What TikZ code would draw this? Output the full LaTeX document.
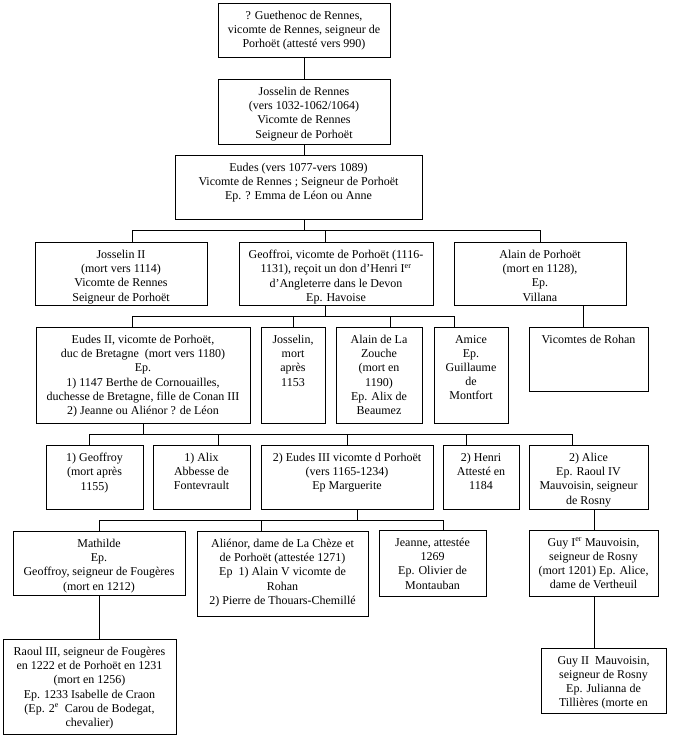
\documentclass[tikz,border=0pt]{standalone}
\usepackage{fontspec}
\setmainfont{Liberation Serif}
\tikzset{
  boite/.style={draw, line width=1pt, anchor=north west, inner sep=0pt, outer sep=0pt},
  texte/.style={anchor=north, yshift=-8pt, align=center, inner sep=0pt,
    font=\fontsize{12}{14.2}\selectfont},
  lien/.style={line width=1pt}
}
\begin{document}
\begin{tikzpicture}[x=1pt,y=-1pt]
    \useasboundingbox[fill=white] (0,0) rectangle (676,739);
    % set up the boxes
    \node[boite, minimum width=172, minimum height=54] (guethenoc) at (218,3) {};
    \node[boite, minimum width=172, minimum height=65] (josselinR) at (218,79) {};
    \node[boite, minimum width=247, minimum height=64] (eudes) at (175,155) {};
    \node[boite, minimum width=172, minimum height=63] (josselinII) at (35,242) {};
    \node[boite, minimum width=194, minimum height=63] (geoffroi) at (239,242) {};
    \node[boite, minimum width=172, minimum height=63] (alainP) at (454,242) {};
    \node[boite, minimum width=214, minimum height=96] (eudesII) at (36,327) {};
    \node[boite, minimum width=64, minimum height=96] (josselin) at (261,327) {};
    \node[boite, minimum width=86, minimum height=96] (zouche) at (336,327) {};
    \node[boite, minimum width=74, minimum height=96] (amice) at (434,327) {};
    \node[boite, minimum width=119, minimum height=64] (rohan) at (529,327) {};
    \node[boite, minimum width=97, minimum height=64] (geoffroy) at (46,445) {};
    \node[boite, minimum width=97, minimum height=64] (alix) at (153,445) {};
    \node[boite, minimum width=172, minimum height=64] (eudesIII) at (261,445) {};
    \node[boite, minimum width=76, minimum height=64] (henri) at (443,445) {};
    \node[boite, minimum width=119, minimum height=64] (alice) at (529,445) {};
    \node[boite, minimum width=172, minimum height=64] (mathilde) at (13,531) {};
    \node[boite, minimum width=171, minimum height=85] (alienor) at (197,531) {};
    \node[boite, minimum width=107, minimum height=66] (jeanne) at (379,530) {};
    \node[boite, minimum width=129, minimum height=66] (guyI) at (529,530) {};
    \node[boite, minimum width=173, minimum height=95] (raoul) at (3,639) {};
    \node[boite, minimum width=125, minimum height=65] (guyII) at (541,648) {};
    % texts, hanging from the top of each box
    \node[texte] (guethenoc-t) at (guethenoc.north) {? Guethenoc de Rennes,\\vicomte de Rennes, seigneur de\\Porhoët (attesté vers 990)};
    \node[texte] (josselinR-t) at (josselinR.north) {Josselin de Rennes\\(vers 1032-1062/1064)\\Vicomte de Rennes\\Seigneur de Porhoët};
    \node[texte] (eudes-t) at (eudes.north) {Eudes (vers 1077-vers 1089)\\Vicomte de Rennes ; Seigneur de Porhoët\\Ep. ? Emma de Léon ou Anne};
    \node[texte] (josselinII-t) at (josselinII.north) {Josselin II\\(mort vers 1114)\\Vicomte de Rennes\\Seigneur de Porhoët};
    \node[texte] (geoffroi-t) at (geoffroi.north) {Geoffroi, vicomte de Porhoët (1116-\\1131), reçoit un don d’Henri I\textsuperscript{er}\\d’Angleterre dans le Devon\\Ep. Havoise};
    \node[texte] (alainP-t) at (alainP.north) {Alain de Porhoët\\(mort en 1128),\\Ep.\\Villana};
    \node[texte] (eudesII-t) at (eudesII.north) {Eudes II, vicomte de Porhoët,\\duc de Bretagne\ \ (mort vers 1180)\\Ep.\\1) 1147 Berthe de Cornouailles,\\duchesse de Bretagne, fille de Conan III\\2) Jeanne ou Aliénor ? de Léon};
    \node[texte] (josselin-t) at (josselin.north) {Josselin,\\mort\\après\\1153};
    \node[texte] (zouche-t) at (zouche.north) {Alain de La\\Zouche\\(mort en\\1190)\\Ep. Alix de\\Beaumez};
    \node[texte] (amice-t) at (amice.north) {Amice\\Ep.\\Guillaume\\de\\Montfort};
    \node[texte] (rohan-t) at (rohan.north) {Vicomtes de Rohan};
    \node[texte] (geoffroy-t) at (geoffroy.north) {1) Geoffroy\\(mort après\\1155)};
    \node[texte] (alix-t) at (alix.north) {1) Alix\\Abbesse de\\Fontevrault};
    \node[texte] (eudesIII-t) at (eudesIII.north) {2) Eudes III vicomte d Porhoët\\(vers 1165-1234)\\Ep Marguerite};
    \node[texte] (henri-t) at (henri.north) {2) Henri\\Attesté en\\1184};
    \node[texte] (alice-t) at (alice.north) {2) Alice\\Ep. Raoul IV\\Mauvoisin, seigneur\\de Rosny};
    \node[texte] (mathilde-t) at (mathilde.north) {Mathilde\\Ep.\\Geoffroy, seigneur de Fougères\\(mort en 1212)};
    \node[texte] (alienor-t) at (alienor.north) {Aliénor, dame de La Chèze et\\de Porhoët (attestée 1271)\\Ep\ \ 1) Alain V vicomte de\\Rohan\\2) Pierre de Thouars-Chemillé};
    \node[texte] (jeanne-t) at (jeanne.north) {Jeanne, attestée\\1269\\Ep. Olivier de\\Montauban};
    \node[texte] (guyI-t) at (guyI.north) {Guy I\textsuperscript{er} Mauvoisin,\\seigneur de Rosny\\(mort 1201) Ep. Alice,\\dame de Vertheuil};
    \node[texte] (raoul-t) at (raoul.north) {Raoul III, seigneur de Fougères\\en 1222 et de Porhoët en 1231\\(mort en 1256)\\Ep. 1233 Isabelle de Craon\\(Ep. 2\textsuperscript{e}\ \ Carou de Bodegat,\\chevalier)};
    \node[texte] (guyII-t) at (guyII.north) {Guy II\ \ Mauvoisin,\\seigneur de Rosny\\Ep. Julianna de\\Tillières (morte en};
    % points where the lines meet
    \coordinate (b1) at (304,230);
    \coordinate (b1a) at (132,230);
    \coordinate (b1b) at (325,230);
    \coordinate (b1c) at (540,230);
    \coordinate (b2) at (325,316);
    \coordinate (b2a) at (132,316);
    \coordinate (b2b) at (293,316);
    \coordinate (b2c) at (390,316);
    \coordinate (b2d) at (454,316);
    \coordinate (b3) at (583,316);
    \coordinate (b4) at (143,434);
    \coordinate (b4a) at (89,434);
    \coordinate (b4b) at (218,434);
    \coordinate (b4c) at (347,434);
    \coordinate (b4d) at (466,434);
    \coordinate (b4e) at (572,434);
    \coordinate (b5) at (357,520);
    \coordinate (b5a) at (99,520);
    \coordinate (b5b) at (261,520);
    \coordinate (b5c) at (443,520);
    \coordinate (b6) at (594,520);
    % draw the lines between them
    \draw[lien] (guethenoc.south) -- (josselinR.north);
    \draw[lien] (josselinR.south) -- (josselinR.south |- eudes.north);
    \draw[lien] (b1 |- eudes.south) -- (b1);
    \draw[lien] (b1a |- josselinII.north) -- (b1a) -- (b1c) -- (b1c |- alainP.north);
    \draw[lien] (b1b) -- (b1b |- geoffroi.north);
    \draw[lien] (b2 |- geoffroi.south) -- (b2);
    \draw[lien] (b2a |- eudesII.north) -- (b2a) -- (b2d) -- (b2d |- amice.north);
    \draw[lien] (b2b) -- (b2b |- josselin.north);
    \draw[lien] (b2c) -- (b2c |- zouche.north);
    \draw[lien] (b3 |- alainP.south) -- (b3 |- rohan.north);
    \draw[lien] (b4 |- eudesII.south) -- (b4);
    \draw[lien] (b4a |- geoffroy.north) -- (b4a) -- (b4e) -- (b4e |- alice.north);
    \draw[lien] (b4b) -- (b4b |- alix.north);
    \draw[lien] (b4c) -- (b4c |- eudesIII.north);
    \draw[lien] (b4d) -- (b4d |- henri.north);
    \draw[lien] (b5 |- eudesIII.south) -- (b5);
    \draw[lien] (b5a |- mathilde.north) -- (b5a) -- (b5c) -- (b5c |- jeanne.north);
    \draw[lien] (b5b) -- (b5b |- alienor.north);
    \draw[lien] (b6 |- alice.south) -- (b6 |- guyI.north);
    \draw[lien] (b5a |- mathilde.south) -- (b5a |- raoul.north);
    \draw[lien] (b6 |- guyI.south) -- (b6 |- guyII.north);
\end{tikzpicture}
\end{document}
